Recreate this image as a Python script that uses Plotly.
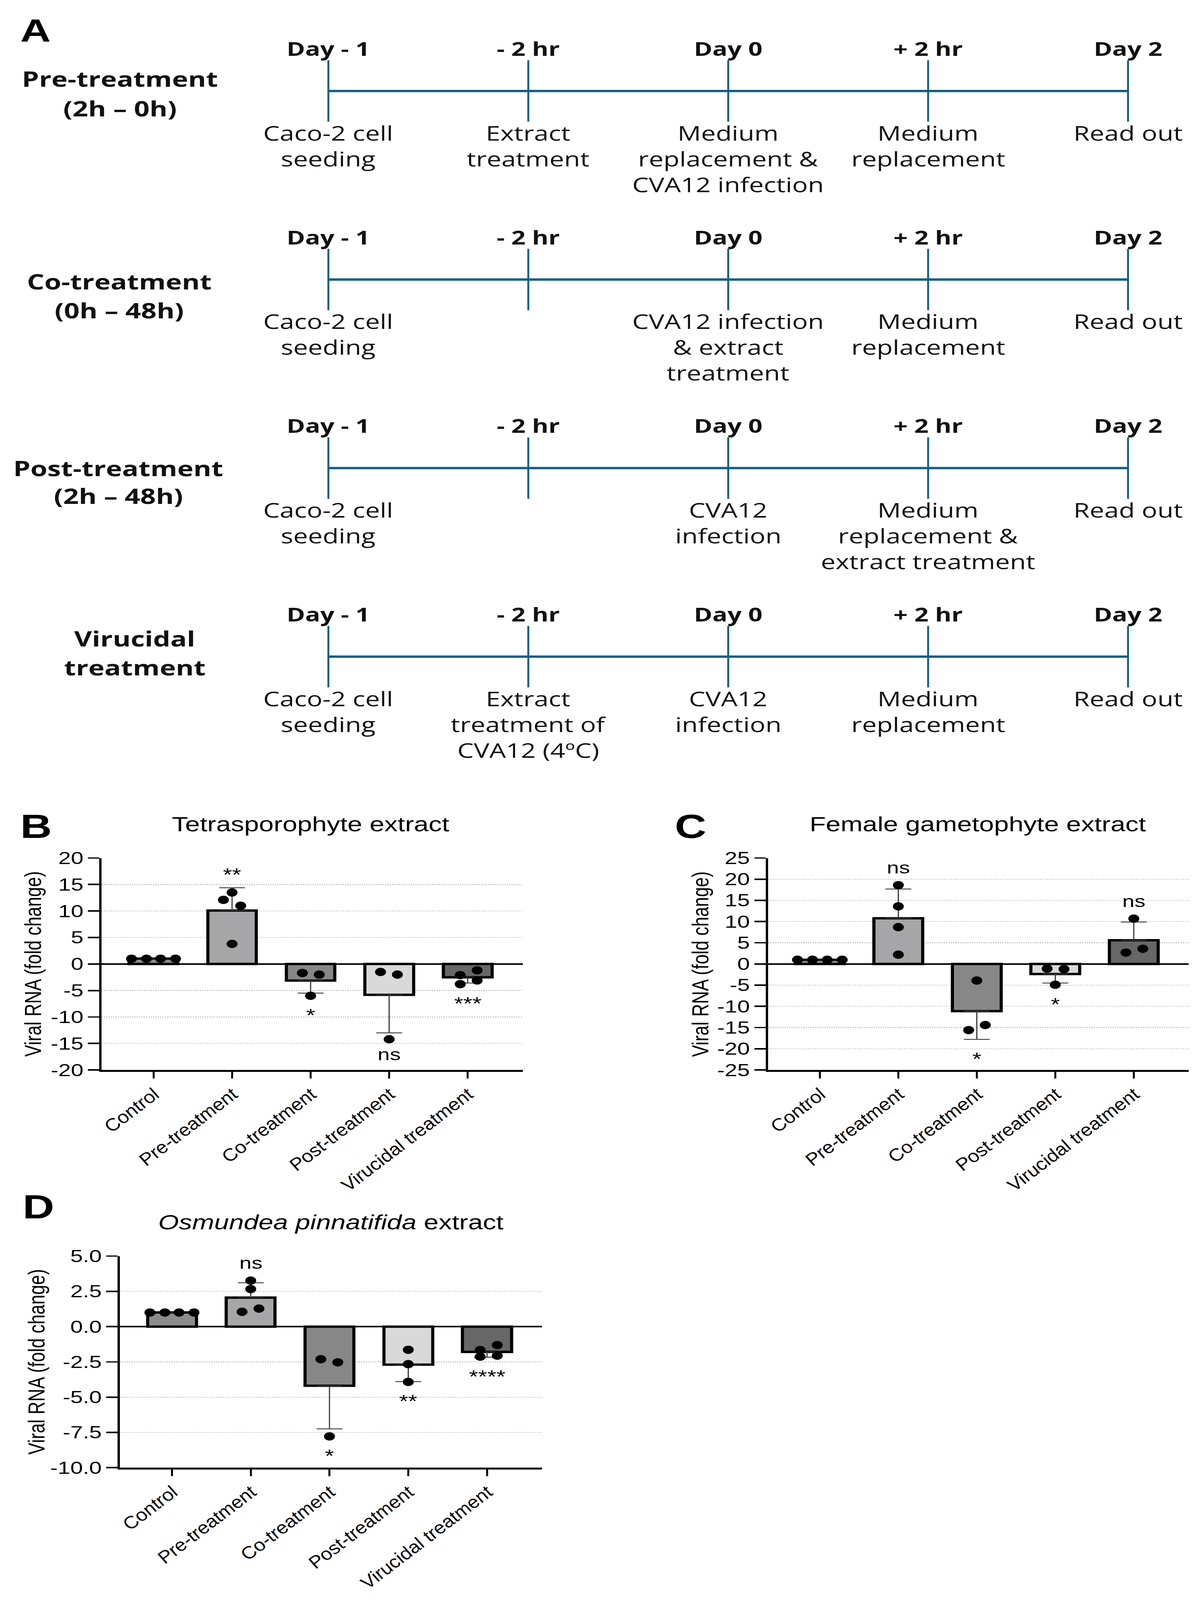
import plotly.graph_objects as go

# ---------------- DATA ----------------
timepoints = ["Day - 1", "- 2 hr", "Day 0", "+ 2 hr", "Day 2"]
protocol_line1 = ["Pre-treatment", "Co-treatment", "Post-treatment", "Virucidal"]
protocol_line2 = ["(2h \u2013 0h)", "(0h \u2013 48h)", "(2h \u2013 48h)", "treatment"]
events_pre = [["Caco-2 cell", "seeding"], ["Extract", "treatment"],
              ["Medium", "replacement &", "CVA12 infection"], ["Medium", "replacement"], ["Read out"]]
events_co = [["Caco-2 cell", "seeding"], [],
             ["CVA12 infection", "& extract", "treatment"], ["Medium", "replacement"], ["Read out"]]
events_post = [["Caco-2 cell", "seeding"], [],
               ["CVA12", "infection"], ["Medium", "replacement &", "extract treatment"], ["Read out"]]
events_viru = [["Caco-2 cell", "seeding"], ["Extract", "treatment of", "CVA12 (4\u00baC)"],
               ["CVA12", "infection"], ["Medium", "replacement"], ["Read out"]]
timeline_events = [events_pre, events_co, events_post, events_viru]

categories = ["Control", "Pre-treatment", "Co-treatment", "Post-treatment", "Virucidal treatment"]

B_title = "Tetrasporophyte extract"
B_mean = [1.0, 10.1, -3.1, -5.8, -2.5]
B_sd = [0.0, 4.3, 2.4, 7.2, 1.1]
B_points = [[1.0, 1.0, 1.0, 1.0], [13.5, 12.1, 11.0, 3.8], [-1.7, -2.0, -6.0],
            [-1.5, -2.0, -14.2], [-1.2, -2.1, -3.1, -3.8]]
B_sig = ["", "**", "*", "ns", "***"]
B_yticks = [-20, -15, -10, -5, 0, 5, 10, 15, 20]
B_yticklabels = ["-20", "-15", "-10", "-5", "0", "5", "10", "15", "20"]

C_title = "Female gametophyte extract"
C_mean = [1.0, 10.8, -11.1, -2.4, 5.6]
C_sd = [0.0, 6.9, 6.7, 2.1, 4.3]
C_points = [[1.0, 1.0, 1.0, 1.0], [18.6, 13.6, 8.7, 2.2], [-3.9, -14.4, -15.6],
            [-1.1, -1.2, -4.9], [10.7, 3.6, 2.7]]
C_sig = ["", "ns", "*", "*", "ns"]
C_yticks = [-25, -20, -15, -10, -5, 0, 5, 10, 15, 20, 25]
C_yticklabels = ["-25", "-20", "-15", "-10", "-5", "0", "5", "10", "15", "20", "25"]

D_title = "<i>Osmundea pinnatifida</i> extract"
D_mean = [1.0, 2.06, -4.2, -2.7, -1.79]
D_sd = [0.0, 1.05, 3.05, 1.2, 0.38]
D_points = [[1.0, 1.0, 1.0, 1.0], [3.26, 2.66, 1.28, 1.05], [-2.31, -2.53, -7.78],
            [-1.64, -2.66, -3.92], [-1.31, -1.66, -2.06, -2.13]]
D_sig = ["", "ns", "*", "**", "****"]
D_yticks = [-10.0, -7.5, -5.0, -2.5, 0.0, 2.5, 5.0]
D_yticklabels = ["-10.0", "-7.5", "-5.0", "-2.5", "0.0", "2.5", "5.0"]

# ---------------- LAYOUT / STYLE ----------------
W, H = 3073, 5393
TEAL = "#156082"
TL_FONT = "Open Sans, Roboto, sans-serif"
CH_FONT = "Liberation Sans, Arial, sans-serif"
bar_colors = ["#8c8c8c", "#a6a6a8", "#878787", "#d9d9d9", "#676767"]

B_jit = [[-0.28, -0.09, 0.09, 0.28], [0, -0.11, 0.11, 0], [-0.105, 0.11, 0],
         [-0.11, 0.105, 0], [0.12, -0.095, 0.12, -0.095]]
C_jit = [[-0.285, -0.094, 0.094, 0.285], [0, 0, 0, 0], [0, 0.108, -0.104],
         [-0.104, 0.111, 0], [0, 0.115, -0.10]]
D_jit = [[-0.28, -0.09, 0.09, 0.28], [0, 0, 0.105, -0.11], [-0.11, 0.105, 0],
         [0, 0, 0], [0.13, -0.087, 0.13, -0.087]]


def fx(px):
    return px / W


def fy(px):
    return 1 - px / H


fig = go.Figure()
ann = []

# ---------------- Panel A : timelines ----------------
tl_idx = list(range(len(timepoints)))
for r, ev in enumerate(timeline_events):
    fig.add_trace(go.Scatter(
        x=tl_idx, y=[r] * len(tl_idx), mode="lines+markers",
        line=dict(color=TEAL, width=8),
        marker=dict(symbol="line-ns", size=148, color=TEAL, line=dict(color=TEAL, width=5)),
        xaxis="x4", yaxis="y4", showlegend=False, hoverinfo="skip"))
    for i, tp in enumerate(timepoints):
        ann.append(dict(x=i, y=r, xref="x4", yref="y4", text="<b>" + tp + "</b>",
                        showarrow=False, yshift=143, xanchor="center", yanchor="middle",
                        font=dict(family=TL_FONT, size=64, color="#111111")))
        for k, line in enumerate(ev[i]):
            ann.append(dict(x=i, y=r, xref="x4", yref="y4", text=line,
                            showarrow=False, yshift=-(141 + 87 * k), xanchor="center",
                            yanchor="middle",
                            font=dict(family=TL_FONT, size=67, color="#111111")))

row_label_x = [300, 298, 296, 338]
row_label_dy = [(42, -59), (-6, -104), (0, -94), (61, -37)]
for r in range(len(protocol_line1)):
    for txt, dy in zip((protocol_line1[r], protocol_line2[r]), row_label_dy[r]):
        ann.append(dict(x=fx(row_label_x[r]), y=r, xref="paper", yref="y4",
                        text="<b>" + txt + "</b>", showarrow=False, yshift=dy,
                        xanchor="center", yanchor="middle",
                        font=dict(family=TL_FONT, size=70, color="#111111")))

# ---------------- Panels B, C, D ----------------
panels = [
    dict(letter="B", title=B_title, mean=B_mean, sd=B_sd, pts=B_points, sig=B_sig, jit=B_jit,
         yt=B_yticks, ytl=B_yticklabels, xa="x", ya="y", dom=(253, 1334, 2894, 3617),
         letter_pos=(85, 2786), title_pos=(790, 2778), ytitle_x=76),
    dict(letter="C", title=C_title, mean=C_mean, sd=C_sd, pts=C_points, sig=C_sig, jit=C_jit,
         yt=C_yticks, ytl=C_yticklabels, xa="x2", ya="y2", dom=(1964, 3044, 2894, 3617),
         letter_pos=(1765, 2786), title_pos=(2503, 2778), ytitle_x=1790),
    dict(letter="D", title=D_title, mean=D_mean, sd=D_sd, pts=D_points, sig=D_sig, jit=D_jit,
         yt=D_yticks, ytl=D_yticklabels, xa="x3", ya="y3", dom=(300, 1384, 4252, 4974),
         letter_pos=(91, 4084), title_pos=(842, 4137), ytitle_x=86),
]

layout_axes = {}
for p in panels:
    xa, ya = p["xa"], p["ya"]
    xs = list(range(len(categories)))
    plus = [s if m > 0 else 0 for m, s in zip(p["mean"], p["sd"])]
    minus = [s if m < 0 else 0 for m, s in zip(p["mean"], p["sd"])]
    fig.add_trace(go.Bar(
        x=xs, y=p["mean"], width=0.62, xaxis=xa, yaxis=ya, showlegend=False,
        marker=dict(color=bar_colors, line=dict(color="black", width=8)),
        error_y=dict(type="data", symmetric=False, array=plus, arrayminus=minus,
                     color="#3a3a3a", thickness=3, width=33),
        hoverinfo="skip"))
    for i, pts in enumerate(p["pts"]):
        fig.add_trace(go.Scatter(
            x=[i + o for o in p["jit"][i]], y=pts, mode="markers", xaxis=xa, yaxis=ya,
            marker=dict(color="black", size=28), showlegend=False, hoverinfo="skip"))
    for i, s in enumerate(p["sig"]):
        if not s:
            continue
        m, sd = p["mean"][i], p["sd"][i]
        if m > 0:
            anchor = max(max(p["pts"][i]), m + sd)
            shift = 55
        else:
            anchor = min(min(p["pts"][i]), m - sd)
            shift = -55
        shift += -11 if "*" in s else 4
        ann.append(dict(x=i, y=anchor, xref=xa, yref=ya, text=s, showarrow=False,
                        yshift=shift, xanchor="center", yanchor="middle",
                        font=dict(family=CH_FONT, size=60 if "*" in s else 56, color="black")))
    x0, x1, y0, y1 = p["dom"]
    ax_name = "xaxis" + xa[1:]
    ay_name = "yaxis" + ya[1:]
    layout_axes[ax_name] = dict(
        domain=[fx(x0), fx(x1)], range=[-0.66, 4.70], anchor=ya,
        tickvals=xs, ticktext=["<i>" + c + "</i>" for c in categories], tickangle=-45,
        ticks="outside", ticklen=23, tickwidth=5, tickcolor="black",
        showline=True, linewidth=6, linecolor="black", showgrid=False, zeroline=False,
        tickfont=dict(family=CH_FONT, size=55, color="black"), fixedrange=True)
    layout_axes[ay_name] = dict(
        domain=[fy(y1), fy(y0)], range=[p["yt"][0], p["yt"][-1]], anchor=xa,
        tickvals=p["yt"], ticktext=p["ytl"], ticks="outside", ticklen=29, tickwidth=5,
        tickcolor="black", showline=True, linewidth=6, linecolor="black",
        showgrid=True, gridcolor="#c4c4c4", gridwidth=3, griddash="dot",
        zeroline=True, zerolinecolor="black", zerolinewidth=6,
        tickfont=dict(family=CH_FONT, size=58, color="black"), fixedrange=True)
    lx, ly = p["letter_pos"]
    ann.append(dict(x=fx(lx), y=fy(ly), xref="paper", yref="paper", text="<b>" + p["letter"] + "</b>",
                    showarrow=False, xanchor="center", yanchor="middle",
                    font=dict(family=CH_FONT, size=112, color="black")))
    tx, ty = p["title_pos"]
    ann.append(dict(x=fx(tx), y=fy(ty), xref="paper", yref="paper", text=p["title"],
                    showarrow=False, xanchor="center", yanchor="middle",
                    font=dict(family=CH_FONT, size=68, color="black")))
    ann.append(dict(x=fx(p["ytitle_x"]), y=fy((y0 + y1) / 2), xref="paper", yref="paper",
                    text="Viral RNA (fold change)", textangle=-90, showarrow=False,
                    xanchor="center", yanchor="middle",
                    font=dict(family=CH_FONT, size=60, color="black")))

ann.append(dict(x=fx(83), y=fy(69), xref="paper", yref="paper", text="<b>A</b>",
                showarrow=False, xanchor="center", yanchor="middle",
                font=dict(family=CH_FONT, size=108, color="black")))

layout_axes["xaxis4"] = dict(domain=[0, 1], range=[-1.627, 4.360], visible=False,
                             anchor="y4", fixedrange=True)
layout_axes["yaxis4"] = dict(domain=[fy(2600), 1], range=[3.611, -0.4306], visible=False,
                             anchor="x4", fixedrange=True)

fig.update_layout(
    width=W, height=H, margin=dict(l=0, r=0, t=0, b=0),
    paper_bgcolor="white", plot_bgcolor="white",
    annotations=ann, bargap=0, **layout_axes)

# The browser window may be shorter than the figure; fit the figure's height to it
post = """
document.documentElement.style.margin='0';
document.body.style.margin='0';
document.body.style.overflow='hidden';
document.documentElement.style.overflow='hidden';
var gd = document.getElementById('{plot_id}');
var s = Math.min(1, window.innerHeight / %d);
if (s < 1) {
  gd.style.transformOrigin = '0 0';
  gd.style.transform = 'scale(1,' + s + ')';
}
""" % H
fig.write_html("out.html", post_script=post, config={"displayModeBar": False})
